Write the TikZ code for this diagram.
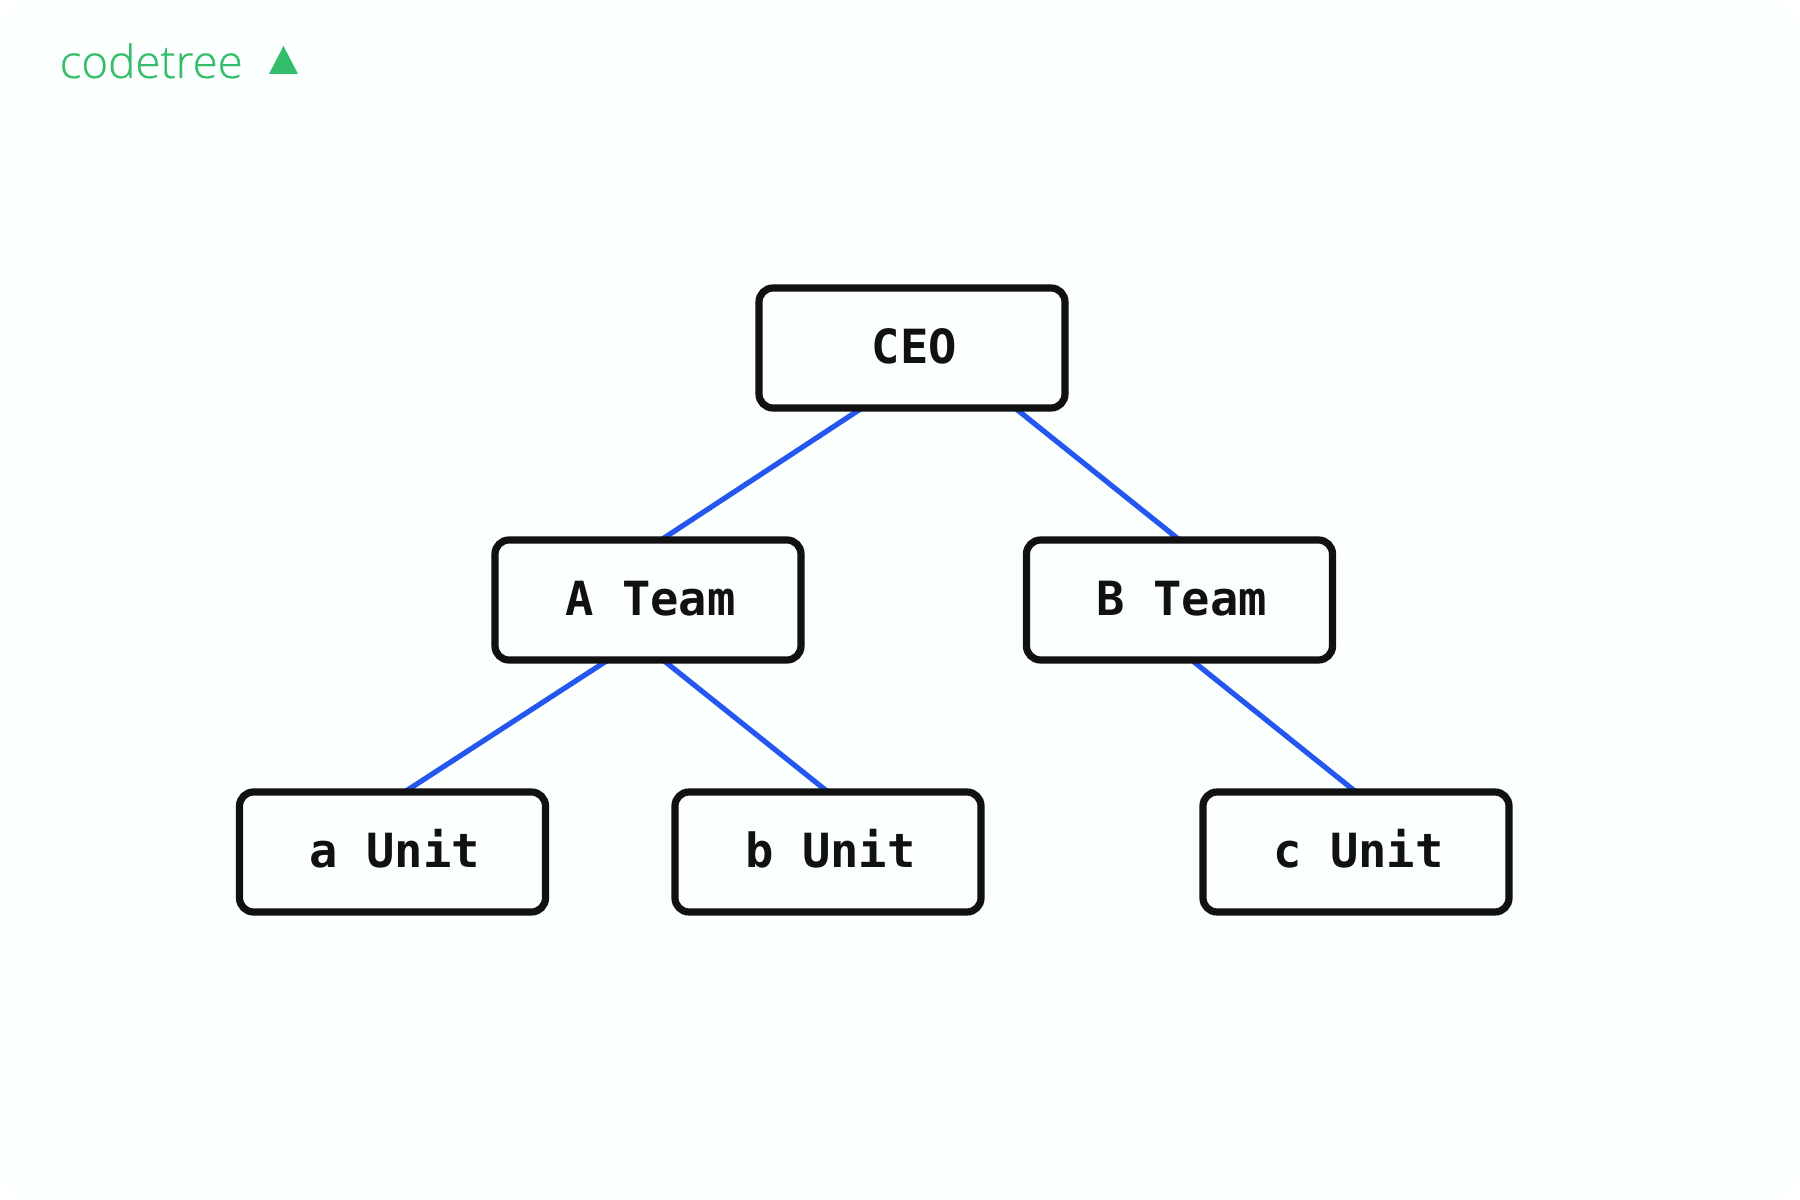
\documentclass[tikz,border=0pt]{standalone}
\usepackage{fontspec}
\usetikzlibrary{backgrounds}
\newfontfamily\boxfont{DejaVu Sans Mono}
\newfontfamily\logofont[FakeBold=0.35]{Open Sans Light}
\definecolor{pagebg}{HTML}{FBFFFE}
\definecolor{logogreen}{HTML}{34BD6A}
\definecolor{edgeblue}{HTML}{2456F0}
\definecolor{boxblack}{HTML}{111111}
\tikzset{
  orgbox/.style={draw=boxblack,line width=0.072cm,rounded corners=0.14cm,fill=pagebg,
    minimum width=3.06cm,minimum height=1.2cm,inner sep=0pt,outer sep=0pt,
    text height=0.32cm,text depth=0cm,text=boxblack,
    font=\boxfont\bfseries\fontsize{13.4pt}{16pt}\selectfont,
    execute at begin node=\hspace*{0.05cm}},
  orgedge/.style={draw=edgeblue,line width=0.052cm}
}
\begin{document}
\begin{tikzpicture}
\useasboundingbox (0,0) rectangle (18,12);
\node[orgbox] (ceo) at (9.12,8.52) {CEO};
\node[orgbox] (ateam) at (6.48,6) {A Team};
\node[orgbox] (bteam) at (11.795,6) {B Team};
\node[orgbox] (aunit) at (3.925,3.48) {a Unit};
\node[orgbox] (bunit) at (8.28,3.48) {b Unit};
\node[orgbox] (cunit) at (13.56,3.48) {c Unit};
\node[anchor=base west,inner sep=0pt,text=logogreen,font=\logofont\fontsize{13pt}{15pt}\selectfont] (logo) at (0.59,11.22) {codetree};
\fill[logogreen] (2.69,11.26) -- (2.98,11.26) -- (2.835,11.54) -- cycle;
\begin{scope}[on background layer]
\fill[white] (0,0) rectangle (18,12);
\fill[pagebg,rounded corners=0.35cm] (0,0) rectangle (18,12);
\draw[orgedge] ([xshift=-0.5cm]ceo.south) -- ([xshift=0.13cm]ateam.north);
\draw[orgedge] ([xshift=1.03cm]ceo.south) -- (bteam.north);
\draw[orgedge] ([xshift=-0.4cm]ateam.south) -- ([xshift=0.12cm]aunit.north);
\draw[orgedge] ([xshift=0.15cm]ateam.south) -- (bunit.north);
\draw[orgedge] ([xshift=0.12cm]bteam.south) -- (cunit.north);
\end{scope}
\end{tikzpicture}
\end{document}
